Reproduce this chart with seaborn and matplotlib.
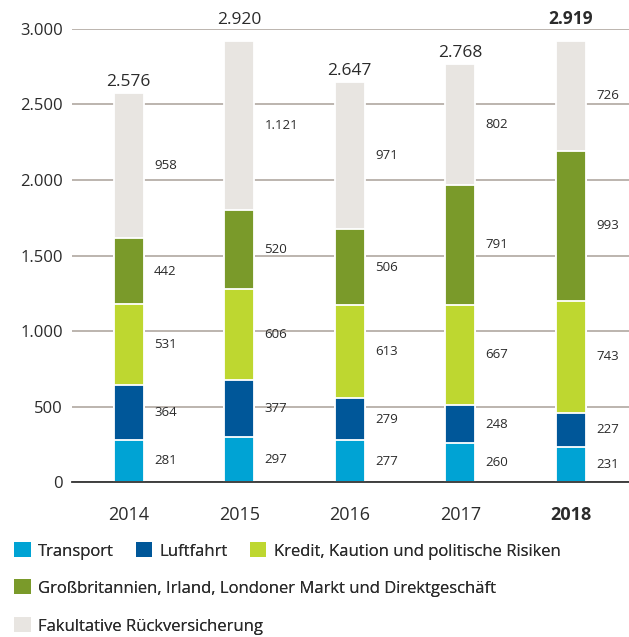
import numpy as np
import pandas as pd
import matplotlib
matplotlib.use("Agg")
import matplotlib.pyplot as plt
import seaborn as sns
from matplotlib.patches import Patch

years = ["2014", "2015", "2016", "2017", "2018"]
totals = [2576, 2920, 2647, 2768, 2919]
segments = [
    "Transport",
    "Luftfahrt",
    "Kredit, Kaution und politische Risiken",
    "Großbritannien, Irland, Londoner Markt und Direktgeschäft",
    "Fakultative Rückversicherung",
]
transport = [281, 297, 277, 260, 231]
luftfahrt = [364, 377, 279, 248, 227]
kredit = [531, 606, 613, 667, 743]
gb_irland = [442, 520, 506, 791, 993]
fakultativ = [958, 1121, 971, 802, 726]

colors = ["#00a3d4", "#005799", "#bed730", "#7a9a2a", "#e8e5e1"]
text_col = "#2b2b2b"


def fmt(v):
    return f"{v:,}".replace(",", ".")


sns.set_style("white")
plt.rcParams["font.family"] = ["Open Sans", "DejaVu Sans"]

df = pd.DataFrame(
    {"year": years, segments[0]: transport, segments[1]: luftfahrt,
     segments[2]: kredit, segments[3]: gb_irland, segments[4]: fakultativ}
)
cum = df[segments].cumsum(axis=1)

fig = plt.figure(figsize=(6.29, 6.37), dpi=100)
ax = fig.add_axes([0.1145, 0.2433, 0.8855, 0.7112])

bar_w = 0.271
# draw cumulative heights from the top layer down so each segment shows
for k in range(len(segments) - 1, -1, -1):
    sns.barplot(x=df["year"], y=cum[segments[k]], order=years, color=colors[k],
                width=bar_w, edgecolor="white", linewidth=1.3, saturation=1,
                ax=ax, zorder=3)

ax.set_xlim(-0.511, 4.525)
ax.set_ylim(0, 3000)
ax.set_yticks(np.arange(0, 3001, 500))
ax.set_yticklabels([fmt(v) for v in range(0, 3001, 500)])
ax.yaxis.grid(True, color="#a9a199", linewidth=1.1, zorder=0)
ax.set_axisbelow(True)
ax.set_xlabel("")
ax.set_ylabel("")
for s in ["top", "right", "left"]:
    ax.spines[s].set_visible(False)
ax.spines["bottom"].set_color("#333333")
ax.spines["bottom"].set_linewidth(1.3)
ax.spines["bottom"].set_zorder(4)
ax.tick_params(axis="y", length=0, pad=6.5, labelsize=12, labelcolor=text_col)
ax.tick_params(axis="x", length=0, pad=17, labelsize=13, labelcolor=text_col)
ax.get_xticklabels()[-1].set_fontweight("bold")

# segment value labels to the right of each bar
for i in range(len(years)):
    base = 0
    for k, seg in enumerate(segments):
        v = df[seg][i]
        ax.annotate(fmt(v), xy=(i + bar_w / 2, base + v / 2), xytext=(7.5, 0),
                    textcoords="offset points", ha="left", va="center",
                    fontsize=9.5, color=text_col)
        base += v
    # total above the bar; lifted over the top gridline when it would collide
    y_lab = totals[i] + 45
    if y_lab > 2900:
        y_lab = 3030
    ax.text(i, y_lab, fmt(totals[i]), ha="center",
            va="baseline", fontsize=12.5, color=text_col,
            fontweight="bold" if i == len(years) - 1 else "normal",
            clip_on=False)

handles = [Patch(facecolor=c, edgecolor="none") for c in colors]
rows = [([0, 1, 2], 0.135), ([3], 0.077), ([4], 0.0173)]
for idx, y in rows:
    leg = fig.legend([handles[j] for j in idx], [segments[j] for j in idx],
                     loc="center left", bbox_to_anchor=(0.022, y), ncol=len(idx),
                     frameon=False, fontsize=12, handlelength=1.0, handleheight=1.0,
                     handletextpad=0.45, columnspacing=1.3, borderpad=0,
                     borderaxespad=0, labelcolor=text_col)
    fig.add_artist(leg)

fig.savefig("out.png", dpi=100)
